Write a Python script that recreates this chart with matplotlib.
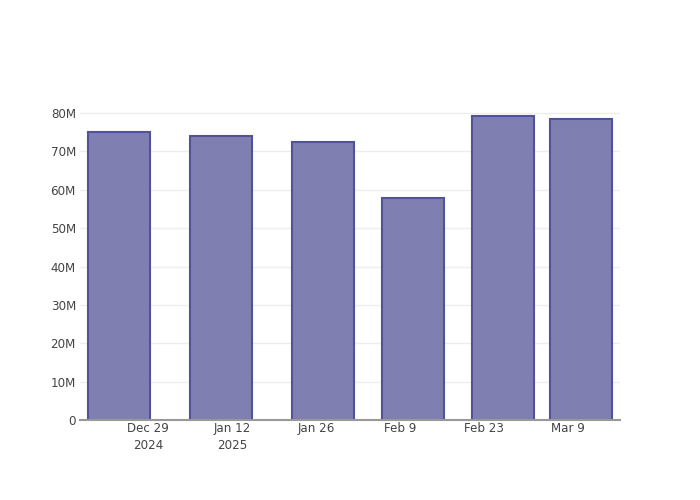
import matplotlib
matplotlib.use('Agg')
import matplotlib.pyplot as plt
import matplotlib.dates as mdates
import numpy as np
import pandas as pd

# data
dates = ['2024-12-24 04:00', '2025-01-10 04:00', '2025-01-27 04:00',
         '2025-02-11 04:00', '2025-02-26 04:00', '2025-03-11 04:00']
values_m = [75.0, 74.0, 72.4, 57.8, 79.2, 78.4]

tick_dates = ['2024-12-29', '2025-01-12', '2025-01-26', '2025-02-09', '2025-02-23', '2025-03-09']
tick_labels = ['Dec 29\n2024', 'Jan 12\n2025', 'Jan 26', 'Feb 9', 'Feb 23', 'Mar 9']
y_ticks = [0, 10, 20, 30, 40, 50, 60, 70, 80]
y_labels = ['0', '10M', '20M', '30M', '40M', '50M', '60M', '70M', '80M']

plt.rcParams['font.family'] = ['DejaVu Sans']

x = mdates.date2num(pd.to_datetime(dates))
xt = mdates.date2num(pd.to_datetime(tick_dates))
y = np.array(values_m)

fig = plt.figure(figsize=(7, 5), dpi=100)
ax = fig.add_axes([80/700, 80/500, 540/700, 320/500])

width = 0.8 * np.min(np.diff(x))
ax.bar(x, y, width=width, color='#7f7fb2', edgecolor='#52529a', linewidth=1.5, zorder=3)

ax.set_xlim(xt[0] - 11.33, xt[0] + 78.67)
ax.set_ylim(0, 83.4)

ax.set_xticks(xt)
ax.set_xticklabels(tick_labels)
ax.set_yticks(y_ticks)
ax.set_yticklabels(y_labels)

ax.grid(axis='y', color='#eeeeee', linewidth=1, zorder=0)
for s in ['top', 'right', 'left']:
    ax.spines[s].set_visible(False)
ax.spines['bottom'].set_color('#999999')
ax.spines['bottom'].set_linewidth(1.5)
ax.spines['bottom'].set_zorder(4)

ax.tick_params(axis='x', length=0, pad=1.5, labelsize=8.6, labelcolor='#444444')
ax.tick_params(axis='y', length=0, pad=3, labelsize=8.6, labelcolor='#444444')
for lbl in ax.get_xticklabels():
    lbl.set_linespacing(1.35)

fig.savefig('out.png', dpi=100, facecolor='white')
